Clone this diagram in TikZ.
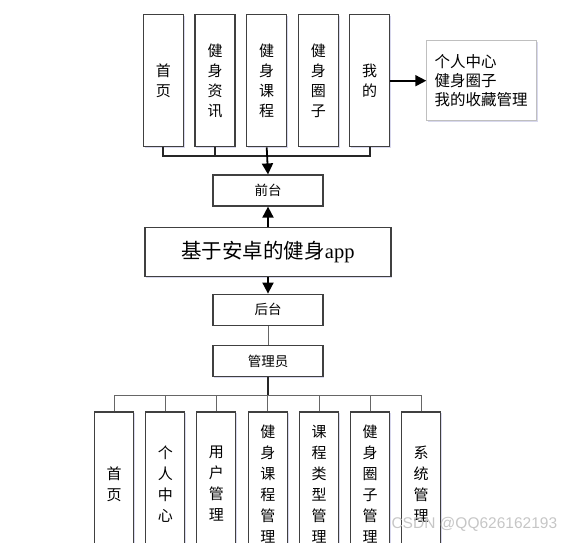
\documentclass[tikz,border=0pt]{standalone}
\usepackage{fontspec}
\setmainfont{Liberation Serif}
\newfontfamily\cjk{Noto Sans CJK SC}
\newfontfamily\wmfont{Liberation Sans}
\usetikzlibrary{arrows.meta,shadows}
\begin{document}
\begin{tikzpicture}[x=1pt,y=-1pt,
  shade/.style={drop shadow={shadow xshift=1.2pt,shadow yshift=-1.2pt,fill=blue!40!gray,opacity=0.22}},
  colbox/.style={draw=black!75,line width=1.2pt,fill=white,shade,minimum width=40pt,minimum height=132pt,inner sep=0pt,align=center,font=\cjk\fontsize{15}{20}\selectfont},
  botbox/.style={colbox,minimum width=39pt,minimum height=144pt,font=\cjk\fontsize{15}{21}\selectfont},
  hbox/.style={draw=black!75,line width=1.2pt,fill=white,shade,minimum width=110pt,minimum height=31pt,inner sep=0pt,font=\cjk\fontsize{13.5}{16}\selectfont},
  listbox/.style={draw=black!25,line width=0.8pt,fill=white,shade,minimum width=110pt,minimum height=80pt,inner sep=0pt,align=left,text width=94pt,font=\cjk\fontsize{15.5}{19}\selectfont},
  mainbox/.style={draw=black!75,line width=1.2pt,fill=white,shade,minimum width=246pt,minimum height=49pt,inner sep=0pt,font=\fontsize{20.5}{24}\selectfont},
  arr/.style={line width=1.8pt,-{Triangle[length=11pt,width=11pt]}},
  busline/.style={line width=1.8pt,black!85},
  thinline/.style={line width=1pt,black!60},
  wm/.style={font=\wmfont\fontsize{15.5}{18}\selectfont,text=gray!45}]
\useasboundingbox (0,0) rectangle (579,542);
\clip (0,0) rectangle (579,542);
% top row
\node[colbox] (t1) at (163.3,80.7) {首\\页};
\node[colbox] (t2) at (215,80.7) {健\\身\\资\\讯};
\node[colbox] (t3) at (266.7,80.7) {健\\身\\课\\程};
\node[colbox] (t4) at (318.3,80.7) {健\\身\\圈\\子};
\node[colbox] (t5) at (369.7,80.7) {我\\的};
\node[listbox] (rb) at (481.7,80.7) {个人中心\\健身圈子\\我的收藏管理};
% middle
\node[hbox] (qt) at (268,190.5) {前台};
\node[mainbox] (main) at (268,252) {{\cjk 基于安卓的健身}app};
\node[hbox] (ht) at (268,309.7) {后台};
\node[hbox] (gly) at (268,361.2) {管理员};
% bottom row
\node[botbox] (b1) at (114,484) {首\\页};
\node[botbox] (b2) at (165.3,484) {个\\人\\中\\心};
\node[botbox] (b3) at (216.3,484) {用\\户\\管\\理};
\node[botbox] (b4) at (267.8,484) {健\\身\\课\\程\\管\\理};
\node[botbox] (b5) at (319,484) {课\\程\\类\\型\\管\\理};
\node[botbox] (b6) at (370,484) {健\\身\\圈\\子\\管\\理};
\node[botbox] (b7) at (421.2,484) {系\\统\\管\\理};
% connectors top
\coordinate (tb) at (0,156);
\draw[busline] (t1.south) -- (t1.south |- tb) -- (t5.south |- tb) -- (t5.south);
\draw[busline] (t2.south) -- (t2.south |- tb);
\draw[arr] (t3.south) -- (qt.north);
\draw[arr] (t5.east) -- (rb.west);
\draw[arr] (main.north) -- (qt.south);
\draw[arr] (main.south) -- (ht.north);
\draw[thinline] (ht.south) -- (gly.north);
% connectors bottom
\coordinate (bb) at (0,395);
\draw[busline] (gly.south) -- (gly.south |- bb);
\draw[thinline] (b1.north) -- (b1.north |- bb) -- (b7.north |- bb) -- (b7.north);
\foreach \n in {b2,b3,b4,b5,b6} \draw[thinline] (\n.north) -- (\n.north |- bb);
% watermark
\node[wm,anchor=west] (wmk) at (388,524) {CSDN @QQ626162193};
\end{tikzpicture}
\end{document}
